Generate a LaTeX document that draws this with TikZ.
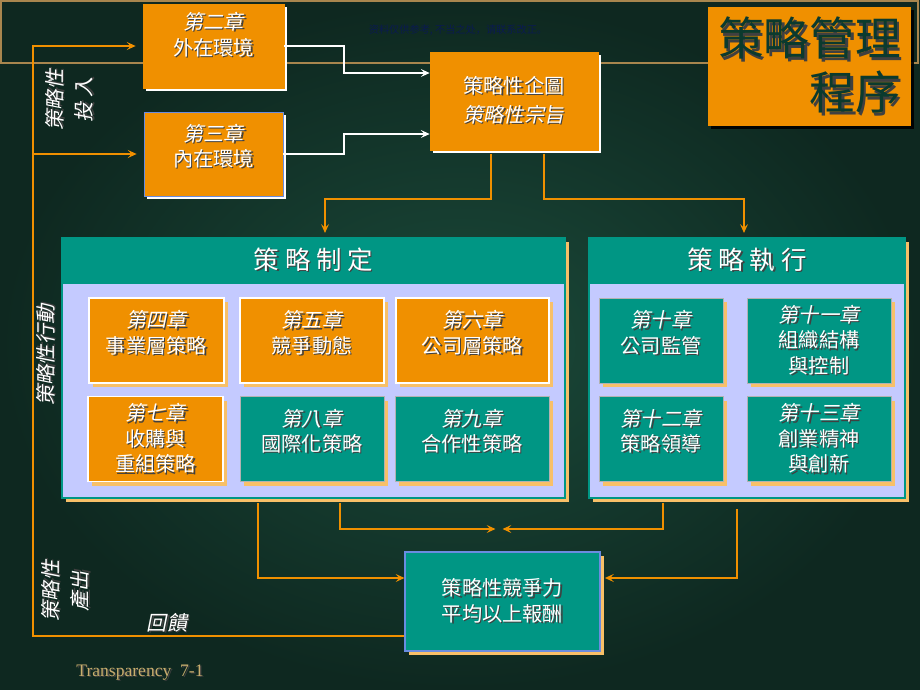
\documentclass[tikz,border=0pt]{standalone}
\usepackage{fontspec}
\setmainfont{Noto Sans CJK TC}
\newfontfamily\slantcjk{Noto Sans CJK TC}[FakeSlant=0.2]
\newfontfamily\scfont{Noto Sans CJK SC}
\newfontfamily\serifrm{Liberation Serif}
\usetikzlibrary{arrows.meta, shadows, positioning}

\definecolor{bgcentre}{HTML}{1B4A3A}
\definecolor{bgedge}{HTML}{0E2820}
\definecolor{boxorange}{HTML}{F09000}
\definecolor{boxteal}{HTML}{009684}
\definecolor{panellav}{HTML}{C4CAFF}
\definecolor{paleorange}{HTML}{F8C068}
\definecolor{striptan}{HTML}{A8864E}
\definecolor{titlegreen}{HTML}{0B3A2E}
\definecolor{marknavy}{HTML}{0A1A50}
\definecolor{tptan}{HTML}{C8AE6E}
\definecolor{edgeblue}{HTML}{6A8CE0}

% text with a dark drop shadow
\newcommand\shd[2][0.8pt]{\leavevmode\rlap{\kern#1\raisebox{-#1}{\textcolor{black!75}{#2}}}#2}
\newcommand\chap[1]{\shd{{\slantcjk #1}}}

\begin{document}
\begin{tikzpicture}[x=0.02cm, y=-0.02cm, >=Stealth,
  every node/.style={font=\fontsize{11.5}{14.5}\selectfont, text=white, align=center, inner sep=0pt},
  topbox/.style={fill=boxorange, draw=boxorange, minimum width=2.82cm, minimum height=1.68cm,
    drop shadow={shadow xshift=1.8pt, shadow yshift=-1.8pt, fill=white, opacity=1}},
  titlebox/.style={fill=boxorange, minimum width=4.06cm, minimum height=2.38cm, text=titlegreen,
    font=\fontsize{26}{31}\selectfont, align=right,
    drop shadow={shadow xshift=1.8pt, shadow yshift=-1.8pt, fill=black, opacity=0.9}},
  panel/.style={fill=panellav, draw=boxteal, line width=0.8pt, minimum height=5.2cm,
    drop shadow={shadow xshift=2.3pt, shadow yshift=-2.3pt, fill=paleorange, opacity=1}},
  panelhead/.style={fill=boxteal, draw=boxteal, line width=0.8pt, minimum height=0.9cm, anchor=north,
    font=\fontsize{14.5}{17}\selectfont},
  chbox/.style={minimum height=1.7cm,
    drop shadow={shadow xshift=2.3pt, shadow yshift=-2.3pt, fill=paleorange, opacity=1}},
  orangech/.style={chbox, fill=boxorange, draw=white, line width=0.8pt},
  tealch/.style={chbox, fill=boxteal, draw=gray!60, line width=0.4pt},
  outbox/.style={fill=boxteal, draw=edgeblue, line width=0.6pt, minimum width=3.9cm, minimum height=1.98cm,
    drop shadow={shadow xshift=2.3pt, shadow yshift=-2.3pt, fill=paleorange, opacity=1}},
  lifttext/.style={text depth=#1},
  sidelbl/.style={rotate=90, font=\slantcjk\fontsize{11.5}{17}\selectfont},
  orangeline/.style={draw=boxorange, line width=1.2pt},
  orangearrow/.style={orangeline, -{Stealth[length=5pt, width=4.5pt, inset=2pt]}},
  whitearrow/.style={draw=white, line width=1.2pt, -{Stealth[length=5pt, width=4.5pt, inset=2pt]}}
]

  % background and top strip
  \useasboundingbox (0,0) rectangle (920,690);
  \shade[inner color=bgcentre, outer color=bgedge] (0,0) rectangle (920,690);
  \draw[striptan, line width=1.2pt] (1,1) rectangle (918,63);
  \node[font=\scfont\fontsize{5.8}{7}\selectfont, text=marknavy] (note) at (458,30) {资料仅供参考, 不当之处，请联系改正。};

  % inputs and intent
  \node[topbox, lifttext=14pt] (ch2) at (213.5,46) {\chap{第二章}\\\shd{外在環境}};
  \node[topbox, draw=edgeblue, minimum width=2.78cm, lifttext=10pt] (ch3) at (213.5,154) {\chap{第三章}\\\shd{內在環境}};
  \node[topbox, minimum width=3.36cm, minimum height=1.96cm, font=\fontsize{11.5}{16.5}\selectfont] (aim) at (514,101)
    {\shd{策略性企圖}\\\chap{策略性宗旨}};
  \node[titlebox] (title) at (809.5,66.5) {\shd[1.5pt]{策略管理}\\\shd[1.5pt]{程序}};

  % formulation panel
  \node[panel, minimum width=10.06cm] (form) at (313.5,368) {};
  \node[panelhead, minimum width=10.06cm] (formhead) at (form.north) {\shd{策 略 制 定}};
  \node[orangech, minimum width=2.7cm, lifttext=10pt] (c4) at (156.5,340.5) {\chap{第四章}\\\shd{事業層策略}};
  \node[orangech, minimum width=2.88cm, lifttext=10pt] (c5) at (312,340.5) {\chap{第五章}\\\shd{競爭動態}};
  \node[orangech, minimum width=3.06cm, lifttext=10pt] (c6) at (472.5,340.5) {\chap{第六章}\\\shd{公司層策略}};
  \node[orangech, minimum width=2.7cm] (c7) at (155.5,439) {\chap{第七章}\\\shd{收購與}\\\shd{重組策略}};
  \node[tealch, minimum width=2.88cm, lifttext=10pt] (c8) at (312,439) {\chap{第八章}\\\shd{國際化策略}};
  \node[tealch, minimum width=3.08cm, lifttext=10pt] (c9) at (472,439) {\chap{第九章}\\\shd{合作性策略}};

  % implementation panel
  \node[panel, minimum width=6.32cm] (exe) at (747,368) {};
  \node[panelhead, minimum width=6.32cm] (exehead) at (exe.north) {\shd{策 略 執 行}};
  \node[tealch, minimum width=2.48cm, lifttext=10pt] (c10) at (661,340.5) {\chap{第十章}\\\shd{公司監管}};
  \node[tealch, minimum width=2.88cm] (c11) at (819,340.5) {\chap{第十一章}\\\shd{組織結構}\\\shd{與控制}};
  \node[tealch, minimum width=2.48cm, lifttext=10pt] (c12) at (661,439) {\chap{第十二章}\\\shd{策略領導}};
  \node[tealch, minimum width=2.88cm] (c13) at (819,439) {\chap{第十三章}\\\shd{創業精神}\\\shd{與創新}};

  % outcome
  \node[outbox] (out) at (502.5,601.5) {\shd{策略性競爭力}\\\shd{平均以上報酬}};

  % side labels
  \node[sidelbl] (inlbl) at (70,100) {\shd{策略性}\\\shd{投 入}};
  \node[sidelbl] (actlbl) at (46,355) {\shd{策略性行動}};
  \node[sidelbl] (outlbl) at (66,591) {\shd{策略性}\\\shd{產出}};
  \node[font=\slantcjk\fontsize{11.5}{14}\selectfont] (fblbl) at (167,623) {\shd{回饋}};
  \node[font=\serifrm\fontsize{10}{12}\selectfont, text=tptan] (tp) at (140,673) {\shd{Transparency\ \ 7-1}};

  % connectors
  \coordinate (w1) at (344,73);
  \coordinate (w2) at (344,134);
  \draw[whitearrow] (ch2.east) -| (w1) -- (w1 -| aim.west);
  \draw[whitearrow] (ch3.east) -| (w2) -- (w2 -| aim.west);

  \coordinate (fb) at (33,636);
  \draw[orangearrow, shorten >=4pt] (out.west |- fb) -- (fb) |- (ch2.west);
  \draw[orangearrow, shorten >=4pt] (fb |- ch3.west) -- (ch3.west);

  \coordinate (d1) at (491,199);
  \coordinate (d2) at (544,199);
  \coordinate (f1) at (325,199);
  \coordinate (f2) at (744,199);
  \draw[orangearrow, shorten <=1.8pt, shorten >=2.5pt] (aim.south -| d1) -- (d1) -- (f1) -- (f1 |- formhead.north);
  \draw[orangearrow, shorten <=1.8pt, shorten >=2.5pt] (aim.south -| d2) -- (d2) -- (f2) -- (f2 |- exehead.north);

  \coordinate (b1) at (258,578);
  \coordinate (b2) at (340,529);
  \coordinate (b3) at (663,529);
  \coordinate (b4) at (737,578);
  \coordinate (meet) at (499,529);
  \draw[orangearrow, shorten <=2.5pt] (form.south -| b1) |- (out.west |- b1);
  \draw[orangearrow, shorten <=2.5pt, shorten >=2pt] (form.south -| b2) |- (meet);
  \draw[orangearrow, shorten <=2.5pt, shorten >=2pt] (exe.south -| b3) |- (meet);
  \draw[orangearrow, shorten <=6pt, shorten >=2.5pt] (exe.south -| b4) |- (out.east |- b4);

\end{tikzpicture}
\end{document}
